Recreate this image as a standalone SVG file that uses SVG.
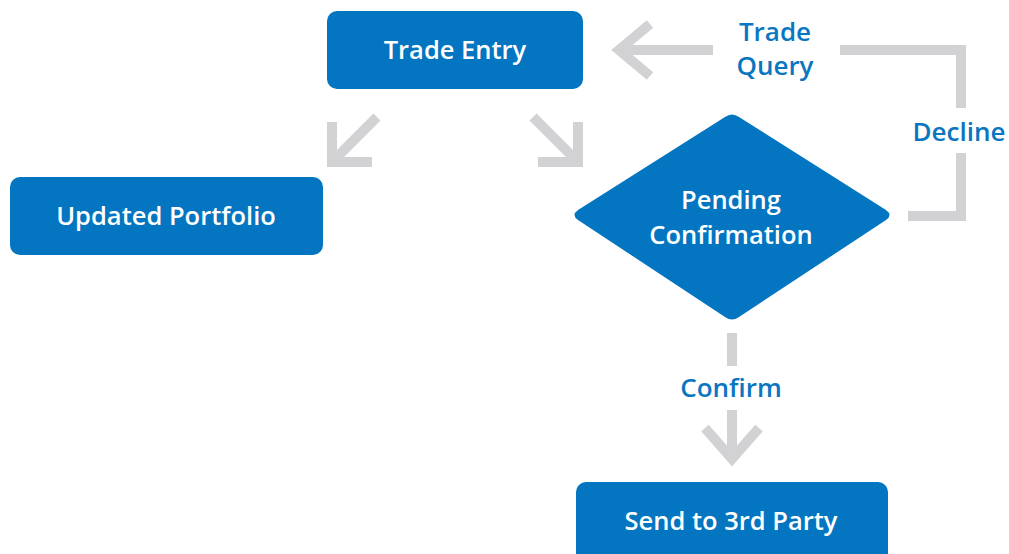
<svg xmlns="http://www.w3.org/2000/svg" width="1009" height="554" viewBox="0 0 1009 554">
<style>
.box{fill:#0375c1}
.nt{fill:#ffffff;font-family:"Open Sans","Liberation Sans",sans-serif;font-weight:600;font-size:25.5px;text-anchor:middle}
.lt{fill:#0a76c1;font-family:"Open Sans","Liberation Sans",sans-serif;font-weight:600;font-size:26px;text-anchor:middle}
.c{fill:none;stroke:#d2d2d4;stroke-width:10;stroke-linecap:butt;stroke-linejoin:miter}
</style>
<rect width="1009" height="554" fill="#ffffff"/>
<g id="connectors">
<path class="c" d="M713,50 H617"/>
<polyline class="c" points="650,24 619,50 650,76"/>
<path class="c" d="M840,50 H961 V108"/>
<path class="c" d="M961,153 V216 H908"/>
<path class="c" d="M377,117 L332,162"/>
<polyline class="c" points="332,122 332,162 372,162"/>
<path class="c" d="M533,117 L578,162"/>
<polyline class="c" points="578,122 578,162 538,162"/>
<path class="c" d="M732,333 V366"/>
<path class="c" d="M732,410 V460"/>
<polyline class="c" points="705,428 732,459 759,428"/>
<text class="lt" x="775" y="41">Trade</text>
<text class="lt" x="775" y="75">Query</text>
<text class="lt" x="959" y="141">Decline</text>
<text class="lt" x="731" y="397">Confirm</text>
</g>
<g id="trade-entry">
<rect class="box" x="327" y="11" width="256" height="78" rx="10"/>
<text class="nt" x="455" y="59">Trade Entry</text>
</g>
<g id="updated-portfolio">
<rect class="box" x="10" y="177" width="313" height="78" rx="10"/>
<text class="nt" x="166" y="225">Updated Portfolio</text>
</g>
<g id="pending-confirmation">
<path class="box" d="M725,117 Q732,112 739,117 L886,210 Q893,215 886,220 L739,317 Q732,322 725,317 L578,220 Q571,215 578,210 Z"/>
<text class="nt" x="731" y="209">Pending</text>
<text class="nt" x="731" y="244">Confirmation</text>
</g>
<g id="send-3rd-party">
<rect class="box" x="576" y="482" width="312" height="90" rx="10"/>
<text class="nt" x="731" y="530">Send to 3rd Party</text>
</g>
</svg>
